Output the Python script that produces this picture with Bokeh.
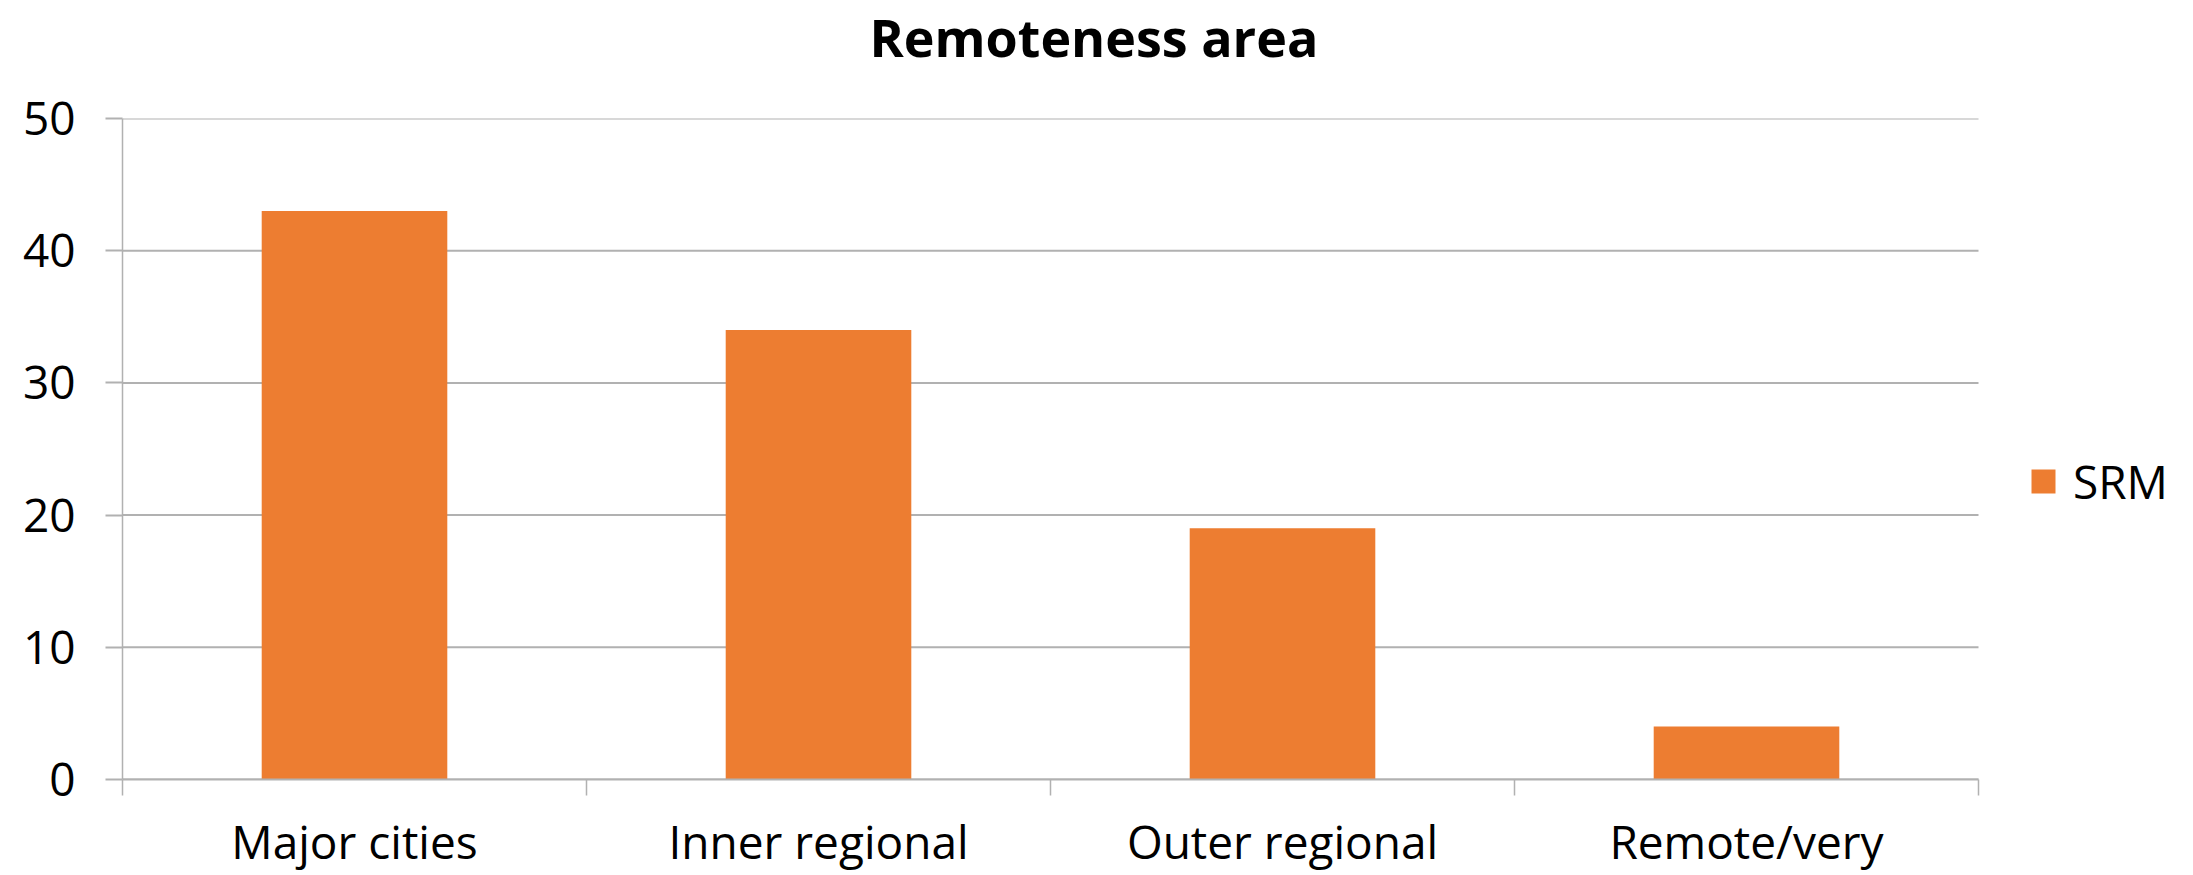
import numpy as np
from bokeh.plotting import figure
from bokeh.models import (ColumnDataSource, Range1d, FixedTicker, Legend, LegendItem, LinearAxis)
from bokeh.embed import file_html
from bokeh.resources import INLINE

# ---- data ----
title_text = "Remoteness area"
categories = ["Major cities", "Inner regional", "Outer regional", "Remote/very"]
srm_values = [43, 34, 19, 4]
series_name = "SRM"
y_ticks = [0, 10, 20, 30, 40, 50]

FONT = "Open Sans"
GRAY = "#b1b1b1"
ORANGE = "#ED7D31"

W, H = 2193, 875
LEFT, AXIS_RIGHT = 122, 1978          # pixel extent of the category axis
n = len(categories)
x_end = n * (W - LEFT) / (AXIS_RIGHT - LEFT)   # frame reaches the right edge (room for legend)

xs = np.arange(n) + 0.5
src = ColumnDataSource(dict(x=xs, top=srm_values, cat=categories))
grid_src = ColumnDataSource(dict(y=y_ticks, x0=[0] * len(y_ticks), x1=[n] * len(y_ticks)))

p = figure(width=W, height=H, output_backend="svg", toolbar_location=None,
           x_range=Range1d(0, x_end), y_range=Range1d(0, 50),
           min_border_left=LEFT, min_border_right=0, min_border_top=118,
           min_border_bottom=96)
p.outline_line_color = None
p.background_fill_color = "white"
p.border_fill_color = "white"

# horizontal grid lines limited to the category area
p.segment(x0="x0", x1="x1", y0="y", y1="y", source=grid_src,
          line_color=GRAY, line_width=2, level="underlay")

r = p.vbar(x="x", top="top", width=0.4, source=src, fill_color=ORANGE, line_color=None)

xa = p.below[0]
ya = p.left[0]

# title
p.title.text = title_text
p.title.text_font = FONT
p.title.text_font_size = "52px"
p.title.text_font_style = "bold"
p.title.text_color = "black"
p.title.align = "left"
p.title.offset = 747
p.title.standoff = -10

# invisible spacer between title and plot area
spacer = LinearAxis(ticker=FixedTicker(ticks=[0]), axis_line_color=None,
                    major_tick_line_color="white", major_tick_line_width=1,
                    minor_tick_line_color=None,
                    major_tick_out=52, major_tick_in=0, minor_tick_out=0,
                    major_label_standoff=0, major_label_text_font_size="0px",
                    major_label_text_alpha=0)
p.add_layout(spacer, "above")

# x axis
xa.bounds = (0, n)
xa.ticker = FixedTicker(ticks=list(xs), minor_ticks=list(range(n + 1)))
xa.major_label_overrides = {float(x): c for x, c in zip(xs, categories)}
xa.major_tick_line_color = None
xa.minor_tick_line_color = GRAY
xa.minor_tick_out = 16
xa.minor_tick_in = 0
xa.minor_tick_line_width = 1.5
xa.axis_line_color = GRAY
xa.axis_line_width = 2
xa.major_label_text_font = FONT
xa.major_label_text_font_size = "46px"
xa.major_label_text_color = "black"
xa.major_label_standoff = 14

# y axis
ya.ticker = FixedTicker(ticks=y_ticks)
ya.major_tick_line_color = GRAY
ya.major_tick_out = 17
ya.major_tick_in = 0
ya.major_tick_line_width = 2
ya.minor_tick_line_color = None
ya.axis_line_color = GRAY
ya.axis_line_width = 1.5
ya.major_label_text_font = FONT
ya.major_label_text_font_size = "46px"
ya.major_label_text_color = "black"
ya.major_label_standoff = 30

p.xgrid.grid_line_color = None
p.ygrid.grid_line_color = None

legend = Legend(items=[LegendItem(label=series_name, renderers=[r])],
                location=(2028 - LEFT, 267), glyph_width=30, glyph_height=30,
                label_standoff=15, padding=0, margin=0, spacing=0,
                border_line_color=None, background_fill_alpha=0,
                label_text_font=FONT, label_text_font_size="46px",
                label_text_color="black")
p.add_layout(legend, "center")

open("out.html", "w").write(file_html(p, INLINE))
